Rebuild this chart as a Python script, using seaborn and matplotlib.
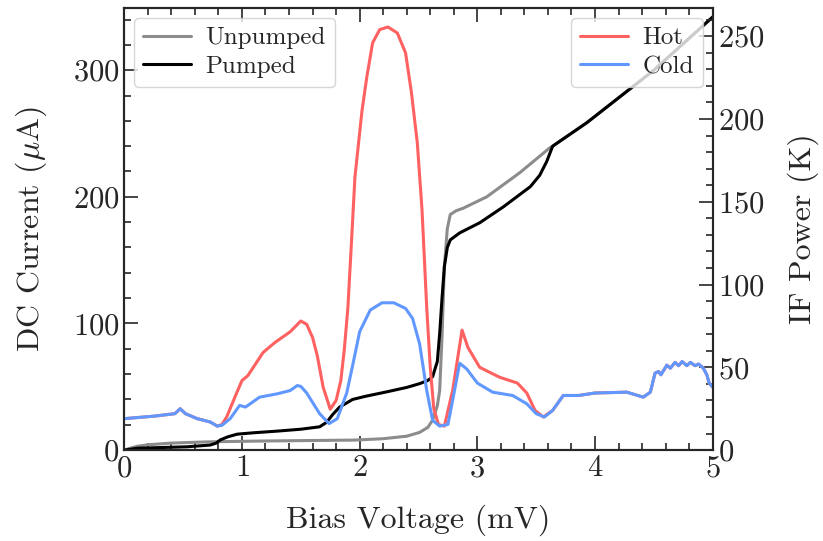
import matplotlib
matplotlib.use('Agg')
import matplotlib.pyplot as plt
from matplotlib.ticker import MultipleLocator
import seaborn as sns

# bias voltage (mV) / DC current (uA)
unpumped_v = [0, 0.05, 0.11, 0.2, 0.39, 0.7, 1.1, 1.5, 1.95, 2.2, 2.4, 2.51, 2.58, 2.62,
              2.66, 2.68, 2.70, 2.72, 2.745, 2.77, 2.82, 2.88, 3.08, 3.36, 3.62, 3.64,
              3.93, 4.18, 4.5, 5.0]
unpumped_i = [0, 1.5, 3, 4.2, 5.5, 6.5, 7.1, 7.5, 7.9, 9, 11, 14, 18, 23.7,
              35, 47, 90, 145, 175, 186, 189, 191, 200, 219, 239, 240,
              258.5, 276.7, 300, 342]

pumped_v = [0, 0.11, 0.3, 0.53, 0.73, 0.78, 0.815, 0.88, 0.96, 1.1, 1.3, 1.5, 1.66,
            1.72, 1.77, 1.83, 1.94, 2.05, 2.23, 2.4, 2.51, 2.58, 2.62, 2.66, 2.68,
            2.70, 2.72, 2.745, 2.77, 2.85, 3.02, 3.22, 3.45, 3.53, 3.59, 3.64,
            3.93, 4.18, 4.5, 5.0]
pumped_i = [0, 1.5, 2, 2.6, 4, 5.5, 8, 10.5, 12.6, 13.7, 15, 16.5, 18.4,
            22, 28, 34, 40, 42.5, 46, 49.5, 52.5, 55, 58, 70, 92,
            120, 145, 160, 166, 171.5, 179.5, 192, 208, 217, 228, 240,
            258.5, 276.7, 300, 342]

# bias voltage (mV) / IF power (K)
hot_v = [0, 0.25, 0.43, 0.475, 0.52, 0.62, 0.73, 0.79, 0.83, 0.87, 0.94, 1.0, 1.05,
         1.18, 1.28, 1.41, 1.5, 1.55, 1.6, 1.64, 1.69, 1.75, 1.8, 1.84, 1.87, 1.90,
         1.93, 1.96, 2.02, 2.06, 2.11, 2.17, 2.24, 2.32, 2.39, 2.44, 2.49, 2.53,
         2.57, 2.60, 2.63, 2.67, 2.72, 2.79,
         2.87, 2.92, 3.02, 3.19, 3.34, 3.42, 3.49, 3.56, 3.64, 3.73, 3.86, 4.0, 4.27,
         4.41, 4.47, 4.51, 4.54, 4.56, 4.61, 4.64, 4.68, 4.71, 4.74, 4.78, 4.81,
         4.85, 4.88, 4.92, 4.95, 4.97, 5.0]
hot_p = [19, 20.5, 22, 25, 22, 19, 17, 14.5, 15.5, 20, 32, 42, 45,
         59, 65, 71.5, 78, 76, 68, 57, 38, 24.7, 30, 42, 61, 86,
         125, 165, 205, 225, 246, 254, 255.6, 252, 240, 216, 185.5, 145,
         86, 50, 25, 15.5, 14.5, 36,
         72.5, 62, 50, 44, 40.5, 34.5, 24, 20, 24, 33, 33, 34.5, 35,
         32, 35, 46.5, 47.5, 45.5, 51.3, 49.5, 53, 51, 53.5, 51, 53,
         51, 52, 49.5, 45.5, 40.5, 38]

cold_v = [0, 0.25, 0.43, 0.475, 0.52, 0.62, 0.73, 0.79, 0.83, 0.90, 0.98, 1.03, 1.15,
          1.3, 1.41, 1.47, 1.5, 1.55, 1.66, 1.74, 1.81, 1.89, 1.94, 2.0, 2.09, 2.19,
          2.29, 2.39, 2.45, 2.51, 2.57, 2.62, 2.68, 2.75, 2.79, 2.85, 2.91, 3.0, 3.13,
          3.30, 3.42, 3.5, 3.57, 3.64, 3.73, 3.86, 4.0, 4.27,
          4.41, 4.47, 4.51, 4.54, 4.56, 4.61, 4.64, 4.68, 4.71, 4.74, 4.78, 4.81,
          4.85, 4.88, 4.92, 4.95, 4.97, 5.0]
cold_p = [19, 20.5, 22, 25, 22, 19, 17, 14.5, 15, 19, 27, 26, 32,
          34, 36, 39, 38.5, 34.5, 22, 16, 19, 34.5, 51, 71.5, 84.6, 89,
          89, 85.6, 79.5, 64, 36, 18, 14.5, 15.5, 30, 52.5, 49, 40.5, 35,
          33, 28, 22, 20, 24, 33, 33, 34.5, 35,
          32, 35, 46.5, 47.5, 45.5, 51.3, 49.5, 53, 51, 53.5, 51, 53,
          51, 52, 49.5, 45.5, 40.5, 38]

sns.set_style('ticks')
plt.rcParams['font.family'] = ['cmr10', 'DejaVu Serif']
plt.rcParams['mathtext.fontset'] = 'cm'
plt.rcParams['axes.formatter.use_mathtext'] = True
plt.rcParams['axes.linewidth'] = 1.5

fig, ax1 = plt.subplots(figsize=(8.23, 5.41), dpi=100)
fig.subplots_adjust(left=0.151, right=0.866, top=0.985, bottom=0.168)
ax2 = ax1.twinx()

sns.lineplot(x=unpumped_v, y=unpumped_i, ax=ax1, color='#8c8c8c', lw=2.2, label='Unpumped')
sns.lineplot(x=pumped_v, y=pumped_i, ax=ax1, color='black', lw=2.2, label='Pumped')
sns.lineplot(x=hot_v, y=hot_p, ax=ax2, color='#ff6060', lw=2.2, label='Hot')
sns.lineplot(x=cold_v, y=cold_p, ax=ax2, color='#6198ff', lw=2.2, label='Cold')

ax1.set_xlim(0, 5)
ax1.set_ylim(0, 349)
ax2.set_ylim(0, 267)

ax1.xaxis.set_major_locator(MultipleLocator(1))
ax1.xaxis.set_minor_locator(MultipleLocator(0.2))
ax1.yaxis.set_major_locator(MultipleLocator(100))
ax1.yaxis.set_minor_locator(MultipleLocator(20))
ax2.yaxis.set_major_locator(MultipleLocator(50))
ax2.yaxis.set_minor_locator(MultipleLocator(10))

ax1.tick_params(which='both', direction='in', top=True, right=False, labelsize=22, width=1.2)
ax1.tick_params(which='major', length=10)
ax1.tick_params(which='minor', length=5)
ax2.tick_params(which='both', direction='in', labelsize=22, width=1.2)
ax2.tick_params(which='major', length=10)
ax2.tick_params(which='minor', length=5)

ax1.set_xlabel('Bias Voltage (mV)', fontsize=23, labelpad=16)
ax1.set_ylabel(r'DC Current ($\mu$A)', fontsize=23, labelpad=17)
ax2.set_ylabel('IF Power (K)', fontsize=23, labelpad=17)

leg_kw = dict(fontsize=18, handlelength=1.9, handletextpad=0.6,
              labelspacing=0.25, borderpad=0.35, borderaxespad=0.4)
ax1.legend(loc='upper left', **leg_kw)
ax2.legend(loc='upper right', **leg_kw)

fig.savefig('out.png', dpi=100)
